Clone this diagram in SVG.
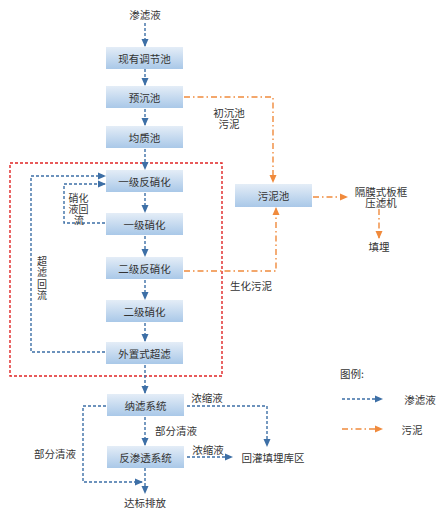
<svg xmlns="http://www.w3.org/2000/svg" width="447" height="514" viewBox="0 0 447 514">
<defs>
<linearGradient id="bg" x1="0" y1="0" x2="0" y2="1">
<stop offset="0" stop-color="#e4edf7"/>
<stop offset="1" stop-color="#a9c8e8"/>
</linearGradient>
<marker id="ab" viewBox="0 0 8 8" refX="7" refY="4" markerWidth="8" markerHeight="8" markerUnits="userSpaceOnUse" orient="auto">
<path d="M0,0.5 L8,4 L0,7.5 Z" fill="#3d6fa6"/>
</marker>
<marker id="ao" viewBox="0 0 8 8" refX="7" refY="4" markerWidth="8" markerHeight="8" markerUnits="userSpaceOnUse" orient="auto">
<path d="M0,0.5 L8,4 L0,7.5 Z" fill="#f08a3c"/>
</marker>
</defs>
<style>
text{font-family:"Noto Sans CJK SC","Noto Sans",sans-serif;font-size:10.5px;fill:#333;text-anchor:middle;dominant-baseline:central}
.sm{font-size:10px}
.vt{font-size:10px;writing-mode:vertical-rl;text-orientation:upright;letter-spacing:1.5px}
.box{fill:url(#bg)}
.b{fill:none;stroke:#3d6fa6;stroke-width:1.4;stroke-dasharray:3 2}
.ba{marker-end:url(#ab)}
.o{fill:none;stroke:#f08a3c;stroke-width:1.4;stroke-dasharray:6 3 1.5 3;marker-end:url(#ao)}
.red{fill:none;stroke:#e02424;stroke-width:1.4;stroke-dasharray:3 2}
</style>
<rect class="red" x="10" y="163" width="212" height="213"/>
<g id="connectors">
<path class="b ba" d="M145,23 V46"/>
<path class="b ba" d="M145,69 V85"/>
<path class="b ba" d="M145,109 V125"/>
<path class="b ba" d="M145,149 V169"/>
<path class="b ba" d="M145,193 V212"/>
<path class="b ba" d="M145,236 V256"/>
<path class="b ba" d="M145,280 V299"/>
<path class="b ba" d="M145,323 V341"/>
<path class="b ba" d="M145,365 V393"/>
<path class="b ba" d="M145,417 V445"/>
<path class="b ba" d="M145,468 V493"/>
<path class="b ba" d="M105,223 H64 V184 H105"/>
<path class="b ba" d="M105,352 H31 V176 H105"/>
<path class="b ba" d="M106,406 H83 V482 H142"/>
<path class="b ba" d="M187,406 H267 V446"/>
<path class="b ba" d="M187,457 H232"/>
<path class="o" d="M184,97 H273 V182"/>
<path class="o" d="M184,271 H276 V208"/>
<path class="o" d="M313,197 H347"/>
<path class="o" d="M379,209 V238"/>
<path class="b ba" d="M342,399 H382"/>
<path class="o" d="M342,429 H382"/>
</g>
<g id="n-src"><text x="145" y="14">渗滤液</text></g>
<g id="n1"><rect class="box" x="106" y="47" width="77" height="22"/><text x="144.5" y="58">现有调节池</text></g>
<g id="n2"><rect class="box" x="106" y="86" width="77" height="22"/><text x="144.5" y="97">预沉池</text></g>
<g id="n3"><rect class="box" x="106" y="126" width="77" height="22"/><text x="144.5" y="137">均质池</text></g>
<g id="n4"><rect class="box" x="106" y="170" width="77" height="22"/><text x="144.5" y="181">一级反硝化</text></g>
<g id="n5"><rect class="box" x="106" y="213" width="77" height="22"/><text x="144.5" y="224">一级硝化</text></g>
<g id="n6"><rect class="box" x="106" y="257" width="77" height="22"/><text x="144.5" y="268">二级反硝化</text></g>
<g id="n7"><rect class="box" x="106" y="300" width="77" height="22"/><text x="144.5" y="311">二级硝化</text></g>
<g id="n8"><rect class="box" x="106" y="342" width="77" height="22"/><text x="144.5" y="353">外置式超滤</text></g>
<g id="n9"><rect class="box" x="107" y="394" width="77" height="22"/><text x="145.5" y="405">纳滤系统</text></g>
<g id="n10"><rect class="box" x="107" y="446" width="77" height="22"/><text x="145.5" y="457">反渗透系统</text></g>
<g id="n-out"><text x="145" y="502">达标排放</text></g>
<g id="n-sludge"><rect class="box" x="235" y="184" width="77" height="23"/><text x="273.5" y="195.5">污泥池</text></g>
<g id="n-press"><text x="381" y="191"><tspan x="381" y="191">隔膜式板框</tspan><tspan x="381" y="202">压滤机</tspan></text></g>
<g id="n-fill"><text x="379" y="246">填埋</text></g>
<g id="n-landfill"><text x="273" y="457">回灌填埋库区</text></g>
<g id="labels">
<text x="229" y="112"><tspan x="229" y="112">初沉池</tspan><tspan x="229" y="123">污泥</tspan></text>
<text x="251" y="285">生化污泥</text>
<text class="sm" x="78.5" y="197"><tspan x="78.5" y="197">硝化</tspan><tspan x="78.5" y="208">液回</tspan><tspan x="79" y="219">流</tspan></text>
<text class="vt" x="42" y="279">超滤回流</text>
<text x="207" y="397">浓缩液</text>
<text x="208" y="449">浓缩液</text>
<text x="176" y="430">部分清液</text>
<text x="55" y="453">部分清液</text>
</g>
<g id="legend">
<text x="352" y="373">图例:</text>
<text x="420" y="399">渗滤液</text>
<text x="412" y="429">污泥</text>
</g>
</svg>
